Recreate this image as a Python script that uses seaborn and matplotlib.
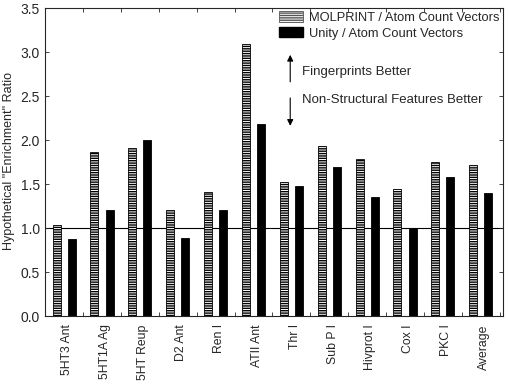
import numpy as np
import pandas as pd
import seaborn as sns
import matplotlib.pyplot as plt
from matplotlib.patches import Patch

targets = ["5HT3 Ant", "5HT1A Ag", "5HT Reup", "D2 Ant", "Ren I", "ATII Ant",
           "Thr I", "Sub P I", "Hivprot I", "Cox I", "PKC I", "Average"]
molprint = [1.04, 1.86, 1.91, 1.20, 1.41, 3.09, 1.52, 1.93, 1.78, 1.44, 1.75, 1.72]
unity = [0.87, 1.20, 2.00, 0.89, 1.21, 2.18, 1.48, 1.69, 1.35, 1.00, 1.58, 1.40]
methods = ["MOLPRINT / Atom Count Vectors", "Unity / Atom Count Vectors"]

sns.set_style("ticks")
plt.rcParams["font.family"] = ["Liberation Sans", "DejaVu Sans"]

df = pd.DataFrame({
    "target": targets * 2,
    "ratio": molprint + unity,
    "method": [methods[0]] * len(targets) + [methods[1]] * len(targets),
})

fig = plt.figure(figsize=(5.08, 3.84), dpi=100)
ax = fig.add_axes([0.089, 0.177, 0.901, 0.802])

sns.barplot(data=df, x="target", y="ratio", hue="method", order=targets,
            hue_order=methods, palette=["white", "black"], width=0.8, gap=0.47,
            edgecolor="black", linewidth=0.6, legend=False, ax=ax)

# hatched stripes on the MOLPRINT bars
for p in ax.containers[0]:
    p.set_hatch("-------")
    if hasattr(p, "set_hatchcolor"):
        p.set_hatchcolor("#8a8a8a")

ax.axhline(1.0, color="black", lw=0.8, zorder=0.5)

# bars sit a bit left of the category centre in the original
shift = 0.087
ax.set_xlim(-0.5 + shift, len(targets) - 0.5 + shift)
ax.set_xticks(np.arange(len(targets)) + shift)
ax.set_xticklabels(targets, rotation=90, fontsize=8.8)
ax.set_xticks(np.arange(len(targets) + 1) - 0.5, minor=True)
ax.tick_params(axis="x", which="major", length=0, pad=6)
ax.tick_params(axis="x", which="minor", direction="in", length=3, top=True, bottom=True, width=0.6)

ax.set_ylim(0, 3.5)
ax.set_yticks(np.arange(0, 3.51, 0.5))
ax.set_yticklabels([f"{v:.1f}" for v in np.arange(0, 3.51, 0.5)], fontsize=10)
ax.tick_params(axis="y", direction="in", length=3, left=True, right=True, width=0.6, pad=4)
ax.set_xlabel("")
ax.set_ylabel('Hypothetical "Enrichment" Ratio', fontsize=9)
ax.yaxis.set_label_coords(-0.066, 0.505)
for s in ax.spines.values():
    s.set_visible(True)
    s.set_linewidth(0.8)

# direction arrows
ax.annotate("", xy=(5.97, 3.0), xytext=(5.97, 2.63),
            arrowprops=dict(arrowstyle="-|>", color="black", lw=0.8, mutation_scale=9))
ax.annotate("", xy=(5.97, 2.13), xytext=(5.97, 2.51),
            arrowprops=dict(arrowstyle="-|>", color="black", lw=0.8, mutation_scale=9))
ax.text(6.28, 2.77, "Fingerprints Better", fontsize=9.5, va="center")
ax.text(6.28, 2.45, "Non-Structural Features Better", fontsize=9.5, va="center")

handles = [Patch(facecolor="white", edgecolor="#555555", hatch="-------", lw=0.6),
           Patch(facecolor="black", edgecolor="black")]
if hasattr(handles[0], "set_hatchcolor"):
    handles[0].set_hatchcolor("#8a8a8a")
ax.legend(handles, methods, loc="upper right", frameon=False, fontsize=9.3,
          handlelength=1.8, handleheight=0.9, handletextpad=0.5, labelspacing=0.2,
          borderaxespad=0.05, borderpad=0.2)

fig.savefig("out.png", dpi=100)
